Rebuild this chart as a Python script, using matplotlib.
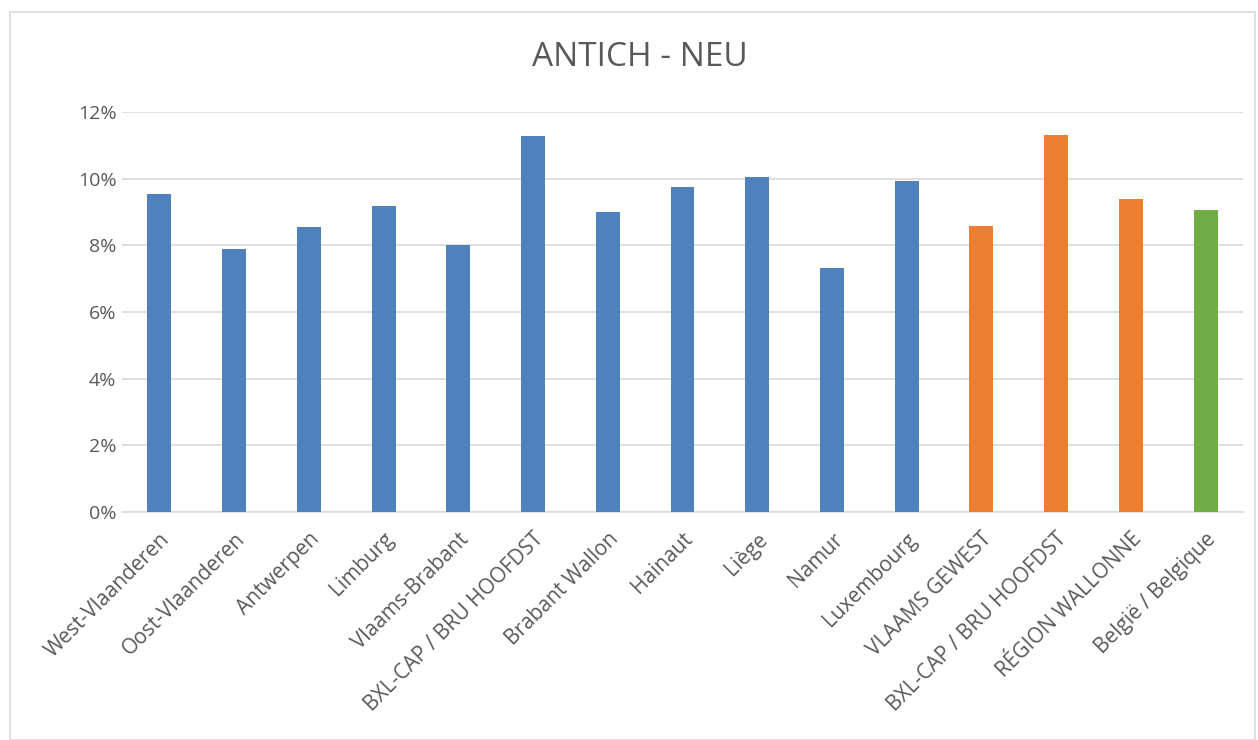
import numpy as np
import matplotlib.pyplot as plt
from matplotlib.ticker import FuncFormatter
from matplotlib.patches import Rectangle

categories = ['West-Vlaanderen', 'Oost-Vlaanderen', 'Antwerpen', 'Limburg',
              'Vlaams-Brabant', 'BXL-CAP / BRU HOOFDST', 'Brabant Wallon',
              'Hainaut', 'Liège', 'Namur', 'Luxembourg', 'VLAAMS GEWEST',
              'BXL-CAP / BRU HOOFDST', 'RÉGION WALLONNE', 'België / Belgique']
values = [9.53, 7.90, 8.55, 9.19, 8.02, 11.29, 9.00, 9.75, 10.05, 7.32,
          9.94, 8.59, 11.30, 9.40, 9.07]
groups = ['prov'] * 11 + ['region'] * 3 + ['country']

colors = {'prov': '#4F81BD', 'region': '#ED7D31', 'country': '#70AD47'}
txt = '#595959'

plt.rcParams['font.family'] = ['Open Sans', 'DejaVu Sans']

fig = plt.figure(figsize=(12.58, 7.4), dpi=100)
fig.patches.append(Rectangle((10 / 1258, 0), 1245 / 1258, 728 / 740,
                             transform=fig.transFigure, fill=False,
                             edgecolor='#D9D9D9', linewidth=1.2))
ax = fig.add_axes([122 / 1258, 228 / 740, 1121 / 1258, 400 / 740])

x = np.arange(len(categories))
ax.bar(x, values, width=0.32, color=[colors[g] for g in groups], zorder=3)

ax.set_xlim(-0.5, len(categories) - 0.5)
ax.set_ylim(0, 12)
ax.set_yticks(np.arange(0, 13, 2))
ax.yaxis.set_major_formatter(FuncFormatter(lambda v, p: '%d%%' % v))
ax.grid(axis='y', color='#D9D9D9', linewidth=1.2, zorder=0)
for s in ['top', 'right', 'left']:
    ax.spines[s].set_visible(False)
ax.spines['bottom'].set_color('#D9D9D9')
ax.spines['bottom'].set_linewidth(1.2)
ax.tick_params(axis='both', length=0, colors=txt)
ax.tick_params(axis='y', pad=4, labelsize=14)
ax.tick_params(axis='x', pad=12, labelsize=15)
ax.set_xticks(x)
ax.set_xticklabels(categories, rotation=45, ha='right', rotation_mode='anchor')

fig.text(640 / 1258, 1 - 57 / 740, 'ANTICH - NEU', ha='center', va='center',
         fontsize=24, color=txt)

fig.savefig('out.png', dpi=100)
